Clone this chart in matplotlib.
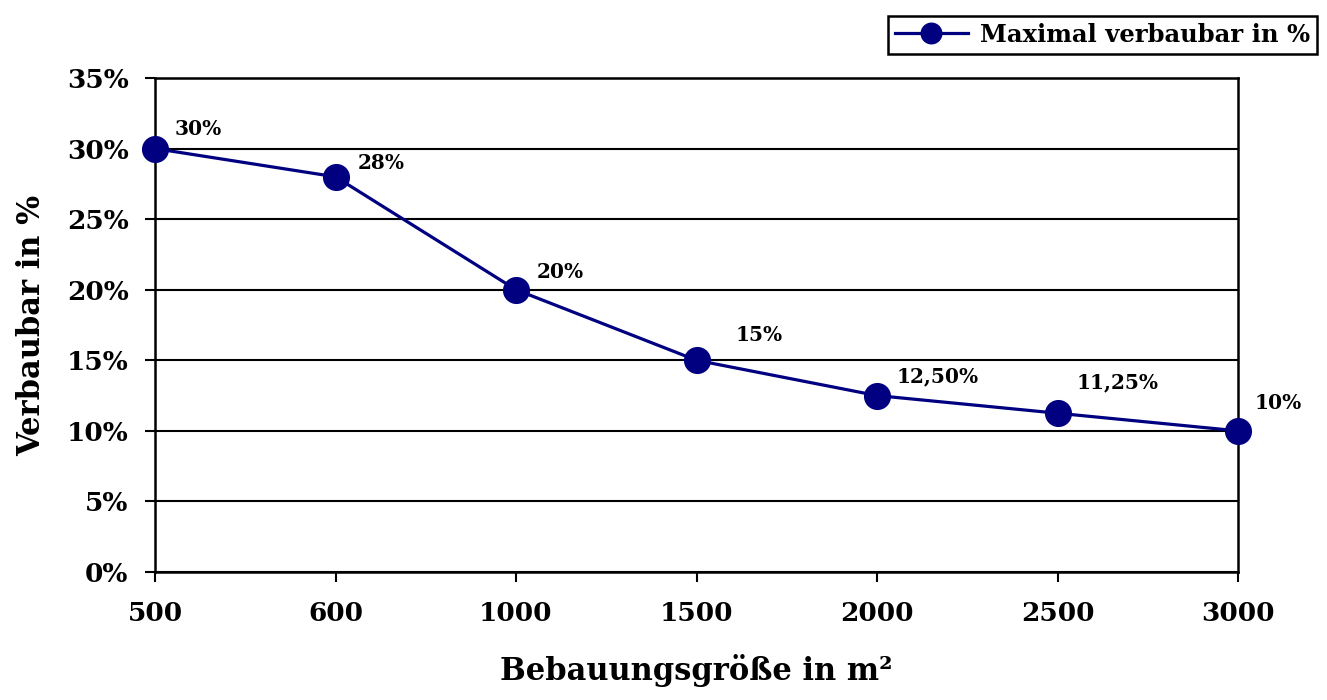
import matplotlib
matplotlib.use('Agg')
from matplotlib import pyplot as plt
from matplotlib.ticker import FuncFormatter

# chart data
categories = ['500', '600', '1000', '1500', '2000', '2500', '3000']
verbaubar = [30, 28, 20, 15, 12.5, 11.25, 10]
value_labels = ['30%', '28%', '20%', '15%', '12,50%', '11,25%', '10%']
# label offsets in points (dx, dy)
label_offsets = [(31, 14), (33, 10), (32, 13), (45, 18), (44, 14), (43, 22), (29, 20)]

plt.rcParams['font.family'] = ['DejaVu Serif']
plt.rcParams['font.weight'] = 'bold'

fig = plt.figure(figsize=(13.27, 7.0), dpi=100)
ax = fig.add_axes([155 / 1327, 128 / 700, (1238 - 155) / 1327, (572 - 78) / 700])

x = list(range(len(categories)))
ax.plot(x, verbaubar, color='#000080', lw=2.3, marker='o', ms=18.5,
        label='Maximal verbaubar in %', zorder=3, clip_on=False)

for xi, yi, txt, off in zip(x, verbaubar, value_labels, label_offsets):
    ax.annotate(txt, (xi, yi), xytext=off, textcoords='offset points',
                ha='center', va='center', fontsize=14.5, fontweight='bold')

ax.set_xlim(0, len(categories) - 1)
ax.set_ylim(0, 35)
ax.set_xticks(x)
ax.set_xticklabels(categories)
ax.set_yticks(range(0, 36, 5))
ax.yaxis.set_major_formatter(FuncFormatter(lambda v, p: '%d%%' % v))
ax.tick_params(axis='both', labelsize=19, width=1.5, length=7, direction='out')
ax.tick_params(axis='x', pad=14)
ax.tick_params(axis='y', pad=12)
for lab in ax.get_xticklabels() + ax.get_yticklabels():
    lab.set_fontweight('bold')

ax.grid(axis='y', color='black', lw=1.5)
ax.set_axisbelow(True)
for s in ax.spines.values():
    s.set_linewidth(1.8)

ax.set_xlabel('Bebauungsgröße in m²', fontsize=22, fontweight='bold', labelpad=20)
ax.set_ylabel('Verbaubar in %', fontsize=22, fontweight='bold', labelpad=14)

leg = ax.legend(loc='upper right', bbox_to_anchor=(1317 / 1327, 1 - 16 / 700),
                bbox_transform=fig.transFigure, borderaxespad=0, fancybox=False,
                edgecolor='black', framealpha=1, prop={'size': 17.5, 'weight': 'bold'},
                handlelength=3.0, handletextpad=0.5, markerscale=0.8, borderpad=0.28)
leg.get_frame().set_linewidth(1.8)

plt.savefig('out.png', dpi=100)
